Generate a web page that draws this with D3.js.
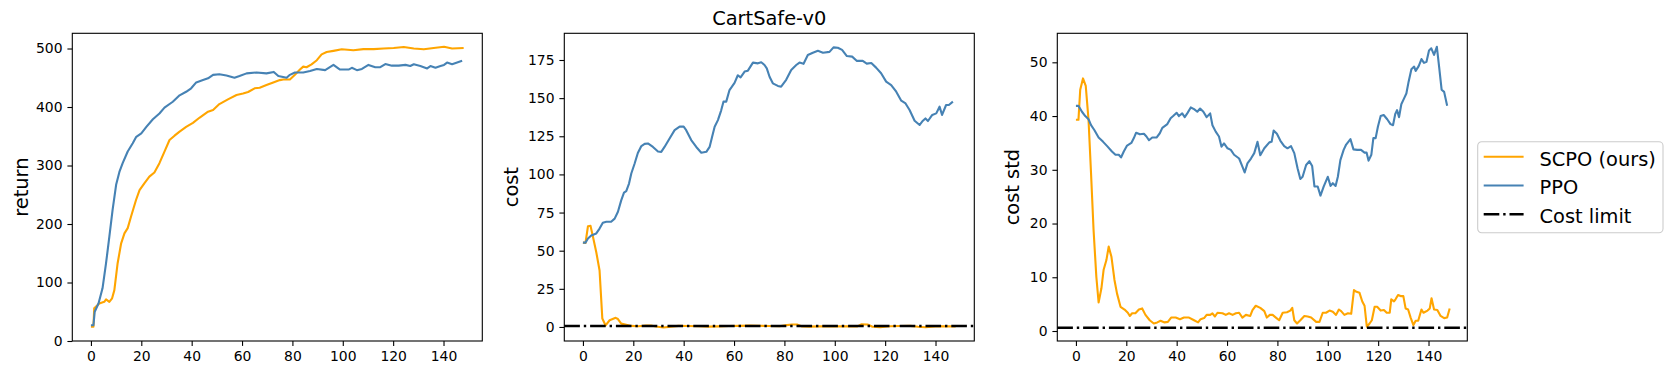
<!DOCTYPE html>
<html>
<head>
<meta charset="utf-8">
<script src="https://cdn.jsdelivr.net/npm/d3@7"></script>
<style>
  body { margin: 0; background: #fff; }
  svg { display: block; font-family: "DejaVu Sans", sans-serif; }
</style>
</head>
<body>
<svg width="1673" height="375"></svg>
<script>
// values, as [step, value]
var scpoReturn = [[0,24.5],[1,24.5],[1.3,56],[3.3,64],[5.3,67],[6,71],[7.3,67],[8.4,73],[9.3,87],[10.6,133],[12,167],[13.3,184],[14.6,193],[15.9,212.5],[17.9,241],[19.3,258],[21.2,269.5],[23.2,281],[25.2,288],[27.2,304],[29.2,323.6],[31.2,343.6],[33.2,351],[35.2,358],[37.8,366],[40.5,373],[43.2,382],[46.5,392],[48.5,395],[51,405],[54.4,413],[57.8,420.5],[60.4,423],[62.4,425.6],[65,432],[67,433],[69.7,437.6],[72.4,442],[75,446],[76.4,447],[79,447],[81,455],[83,464],[84.3,469],[85.6,468],[87.6,473],[89.7,480],[91.6,490],[93.6,494],[96.3,496],[99.6,498.6],[104.2,497],[108.2,499],[112.3,499],[116.2,500],[120.2,501],[124.2,502.5],[128.2,500],[132.2,498.6],[136.1,501],[140.2,503],[143.4,500],[148,501]];
var ppoReturn = [[0,27],[1,27],[1.5,50],[3,64],[4.6,90],[6,133],[7.3,178],[8.6,224],[10,267],[11.3,289],[12.6,304],[14.6,324],[16.6,338],[18,349],[20,355],[22,366],[24.6,379],[27.2,389],[29.2,399],[32.5,409],[35.2,420],[37.8,426],[39.8,432],[41.8,442],[44.5,446],[46.5,449],[48.5,455],[51,456],[53.8,454],[57,450],[59,453],[61.8,457.5],[65.7,459],[69.7,457.5],[72.6,460],[74.4,453],[77.7,450],[79,455],[81,459],[84.3,459],[87,461.5],[89.7,465],[93,463],[96.3,472],[98.9,464],[102.3,464],[103.6,467],[105.6,463],[107.6,465],[110.2,472],[112.9,468],[114.9,468],[116.9,473.5],[119.5,470.7],[122.2,470.7],[124.9,472],[126.8,470],[128.2,473],[130.8,470],[133.5,466],[134.8,470],[136.8,467],[138.8,470],[140.2,472],[141.4,476],[143.4,473],[145.4,476],[147.4,479]];

var scpoCost = [[0,55.3],[1,55],[2,66],[3,66.3],[4,59],[5.3,49],[6.6,37],[7.7,5.5],[9,1],[10.6,4.4],[13,6],[13.9,5.2],[15.2,2.2],[17.2,1.5],[19.2,0.7],[22,0.5],[25,0.9],[27,1.0],[29,0.3],[32,-0.3],[35,0.2],[38,0.7],[42,0.6],[46,0.5],[50,0.2],[54,0.4],[58,0.6],[62,0.7],[66,0.9],[70,0.8],[74,0.6],[78,0.5],[81,1.2],[83,1.6],[85,1.6],[87,0.3],[90,0.2],[94,0.4],[98,0.5],[102,0.4],[106,0.5],[109,0.4],[110.5,1.7],[113,1.6],[115,0.1],[118,-0.2],[122,0.5],[126,0.6],[130,0.7],[133,0.1],[136,-0.2],[140,0.4],[144,0.5],[148,0.4]];
var ppoCost = [[0,55.3],[1,55.3],[2,58],[3.3,60],[5.3,61.3],[6.6,64.5],[7.9,68.3],[9.3,69],[11.2,69],[12.6,71],[13.9,75.5],[15.2,83],[16.3,88],[17.2,89],[18.3,94],[19.2,100.6],[20.5,107],[21.8,114],[23.2,118.6],[24.5,120],[25.8,120.3],[27.8,118],[29.8,115],[31.1,114.8],[32.4,118],[34.4,123.6],[36.4,129],[38.4,131.3],[40,131.3],[41,129],[43,122.5],[45,118],[47,114.2],[49,114.8],[50.3,118],[51.3,124.7],[52.3,131.3],[53.6,135.6],[54.9,142],[55.8,147.7],[56.9,147.7],[58.2,155.3],[60.2,160],[61.5,165],[62.6,163.6],[64.2,167.4],[65.5,168],[67.5,173.3],[69.5,172.8],[70.8,173.5],[72.1,171.7],[73,169.5],[74.1,164],[75.4,159.7],[77.4,158],[78.7,157.5],[80.7,162],[82.7,168.5],[84.7,171.7],[86,173.3],[87.6,172.5],[89.3,178.3],[91.3,179.8],[93.3,181],[95.3,179.8],[97.9,180.3],[99.5,183.3],[101.2,183],[102.9,181.6],[104.8,177.6],[106.9,177.2],[108.8,174.4],[111.1,174.4],[112.7,172.6],[114.5,173],[116.4,170],[118.4,166.3],[120.4,160.8],[122.4,158.6],[124.4,154.2],[126.4,148.3],[128.1,146.5],[129.7,142.2],[131.7,135.2],[133.7,132.4],[135,135.2],[136,136.7],[137,135],[138.7,139],[140.3,140],[141.6,144.4],[142.6,139],[144.2,145.5],[145.3,145.5],[146.9,147.7]];

var scpoStd = [[0,39.3],[1,39.3],[1.7,44.9],[2.8,47],[3.9,45.6],[5,39.3],[6,29.3],[7,18.8],[8.1,10.1],[9,5.3],[10.1,7.9],[11,11.4],[12.1,13.2],[13,15.7],[14.1,13.8],[15.3,9.5],[16.3,7],[17.7,4.5],[19.3,4],[20.6,3.4],[21.4,2.8],[22.3,3.3],[23.6,3.3],[25,4],[26.3,4.2],[27.6,3],[29.3,2],[30.9,1.4],[32.3,1.6],[33.6,1.9],[35.2,1.6],[36.5,1.7],[37.8,2.5],[39.6,2.5],[41.3,2.2],[42.9,2.5],[44.9,2.5],[46.9,2],[48.5,1.6],[49.5,2.2],[50.9,2.4],[51.9,3],[53.3,3],[54.2,3.3],[55.2,2.7],[56.2,3.4],[58.2,3.3],[59.5,3],[60.8,3.3],[62.2,3],[63.5,3.3],[64.8,3.4],[66.1,2.5],[67.5,3],[69.2,2.8],[70.1,3.9],[71.4,4.7],[73.2,4.3],[74.8,3.7],[75.8,2.5],[77,3],[78.1,3],[79.4,2.5],[80.7,2],[82.1,3.4],[83.8,3.5],[85.1,3.8],[85.9,4.3],[86.7,2],[87.8,1.4],[89.1,2],[90.7,2.8],[92,2.7],[93.4,2.5],[95.4,1.7],[96.7,1.7],[98,3.4],[99.3,3.4],[100.7,3.8],[102,3.6],[103.3,3],[104.4,4],[105.3,3.7],[106.6,3],[108,3.3],[109.3,3.2],[110.4,7.6],[111.4,7.3],[112.6,7.1],[113.7,5.5],[114.6,4.7],[115.5,0.8],[116.6,1.4],[117.5,2],[118.6,4.5],[119.6,4.5],[121,3.8],[122.3,3.9],[123.4,3.4],[124.6,3.4],[125.2,5.9],[126.3,5.5],[126.9,5.9],[127.9,6.7],[128.9,6.5],[130,6.5],[130.9,4.2],[131.9,4],[132.9,2.5],[134,1.1],[134.9,1.9],[135.9,1.9],[137.2,4],[138,3.4],[139.6,3.8],[140.5,4.2],[141.2,6.1],[142.2,4],[143.5,3.9],[144.8,2.8],[146.2,2.4],[147.4,2.5],[148.4,4.2]];
var ppoStd = [[0,41.9],[1,41.9],[2.4,40.8],[3.7,40],[5,39.4],[6,38.3],[7.3,37.4],[9,36],[10.8,35.2],[12.4,34.4],[14.3,33.4],[15.7,32.8],[17,32.8],[17.9,32.3],[19,33.4],[20.3,34.5],[22,35],[23,35.9],[23.9,36.9],[25.4,36.6],[27,36.7],[28,36.2],[29,35.5],[30.3,36],[32,36],[33.3,36.8],[34.3,37.8],[36.3,38.5],[37.6,39.6],[38.6,40],[40,40.6],[40.9,40],[42.2,40.5],[43.2,39.8],[44.2,40.5],[45.6,41.6],[46.9,41.3],[48.2,40.8],[49.3,41.4],[50.6,40.8],[51.9,39.8],[53.3,40.5],[54.2,38.3],[55.5,37.1],[56.8,36.2],[57.8,34.3],[58.8,34.9],[60.2,34],[61.5,33.7],[62.8,32.8],[64.8,32.1],[66.1,30.6],[67,29.5],[68.1,31.2],[69.5,32.1],[70.8,33.1],[72.1,35.2],[73.2,32.7],[74.8,34],[76.8,35.1],[77.7,35.2],[78.5,37.3],[79.8,36.7],[81.2,35.4],[82.7,34.4],[84,34],[85.4,34.4],[86.7,33.1],[88,30.3],[89.1,28.3],[90,28.7],[91.4,30.9],[92.7,31.6],[93.8,30.7],[94.7,26.9],[96,26.9],[97.1,25.2],[98.4,26.9],[100,28.7],[101.1,27],[102,27.5],[103.1,27],[104,28.7],[105,31.8],[106.3,33.7],[107.3,34.7],[109,35.7],[110.2,33.8],[111.7,33.7],[113.2,33.7],[114.6,33.2],[115.4,33.2],[116.2,31.7],[117.3,32.8],[118.1,35.9],[119,35.9],[119.9,38],[121,40],[122.2,40.2],[123.6,39.4],[124.9,38.5],[125.9,38.3],[126.8,40.4],[127.5,41.1],[128.3,39.8],[129.2,42.2],[130.3,43.3],[131.2,44.2],[132.1,46.4],[133.2,48.7],[134.3,49.2],[134.9,48.4],[136.1,49.3],[137.2,50.6],[138.2,49.9],[139.2,50.1],[140.2,52.2],[141.1,52.6],[142.2,51.4],[143.3,52.9],[144.2,49.2],[145.2,44.9],[146.2,44.5],[147.4,41.9]];

var costLimit = 0.6;
var xTicks = [0, 20, 40, 60, 80, 100, 120, 140];
var returnTicks = [0, 100, 200, 300, 400, 500];
var costTicks = [0, 25, 50, 75, 100, 125, 150, 175];
var stdTicks = [0, 10, 20, 30, 40, 50];
var legendLabels = ["SCPO (ours)", "PPO", "Cost limit"];

var svg = d3.select("svg");
var orange = "#ffa500", blue = "#4682b4";
var axTop = 33.3, axBottom = 341, axW = 410;
var tickPx = 13.9, bigPx = 19.4;
var dash = "15.6,3.9,2.4,3.9";

var panels = [
    {left: 72.3, yDom: [0, 526], yTicks: returnTicks, label: "return", labelX: 28.3,
     scpo: scpoReturn, ppo: ppoReturn, limit: null},
    {left: 564.3, yDom: [-9.2, 192.5], yTicks: costTicks, label: "cost", labelX: 518.3,
     scpo: scpoCost, ppo: ppoCost, limit: costLimit, title: "CartSafe-v0"},
    {left: 1057.3, yDom: [-1.86, 55.4], yTicks: stdTicks, label: "cost std", labelX: 1019.3,
     scpo: scpoStd, ppo: ppoStd, limit: costLimit}
];

panels.forEach(function(p) {
    var scX = d3.scaleLinear().domain([-7.4, 155.4]).range([p.left, p.left + axW]);
    var scY = d3.scaleLinear().domain(p.yDom).range([axBottom, axTop]);
    var g = svg.append("g");

    var lnMkr = d3.line().x(d => scX(d[0])).y(d => scY(d[1]));
    [[p.scpo, orange], [p.ppo, blue]].forEach(function(s) {
        g.append("path").attr("d", lnMkr(s[0]))
            .attr("fill", "none").attr("stroke", s[1])
            .attr("stroke-width", 2.1).attr("stroke-linejoin", "round");
    });

    if (p.limit !== null) {
        g.append("line")
            .attr("x1", p.left).attr("x2", p.left + axW)
            .attr("y1", scY(p.limit)).attr("y2", scY(p.limit))
            .attr("stroke", "#000").attr("stroke-width", 2.4)
            .attr("stroke-dasharray", dash);
    }

    // frame
    g.append("rect").attr("x", p.left).attr("y", axTop)
        .attr("width", axW).attr("height", axBottom - axTop)
        .attr("fill", "none").attr("stroke", "#000").attr("stroke-width", 1.1);

    var axX = g.append("g").attr("transform", "translate(0," + axBottom + ")")
        .call(d3.axisBottom(scX).tickValues(xTicks).tickSize(4.9).tickPadding(4.9).tickSizeOuter(0));
    var axY = g.append("g").attr("transform", "translate(" + p.left + ",0)")
        .call(d3.axisLeft(scY).tickValues(p.yTicks).tickSize(4.9).tickPadding(4.9).tickSizeOuter(0));
    [axX, axY].forEach(function(a) {
        a.select(".domain").remove();
        a.attr("font-family", null).attr("font-size", null);
        a.selectAll("text").style("font-size", tickPx + "px").attr("fill", "#000");
        a.selectAll("line").attr("stroke", "#000").attr("stroke-width", 1.1);
    });

    g.append("text")
        .attr("transform", "translate(" + p.labelX + "," + ((axTop + axBottom) / 2) + ") rotate(-90)")
        .attr("text-anchor", "middle").style("font-size", bigPx + "px")
        .text(p.label);

    if (p.title) {
        g.append("text").attr("x", p.left + axW / 2).attr("y", 25)
            .attr("text-anchor", "middle").style("font-size", bigPx + "px")
            .text(p.title);
    }
});

// legend, outside the third panel
var lg = svg.append("g").attr("transform", "translate(1477.7,141.7)");
lg.append("rect").attr("width", 185.3).attr("height", 91).attr("rx", 4)
    .attr("fill", "#fff").attr("fill-opacity", 0.8)
    .attr("stroke", "#cccccc").attr("stroke-width", 1.1);
var legendStyles = [[orange, 2.1, null], [blue, 2.1, null], ["#000", 2.4, dash]];
legendLabels.forEach(function(lab, i) {
    var y = 15 + i * 28.8;
    lg.append("line").attr("x1", 6).attr("x2", 45.9).attr("y1", y).attr("y2", y)
        .attr("stroke", legendStyles[i][0]).attr("stroke-width", legendStyles[i][1])
        .attr("stroke-dasharray", legendStyles[i][2]);
    lg.append("text").attr("x", 61.8).attr("y", y + 9)
        .style("font-size", bigPx + "px").text(lab);
});
</script>
</body>
</html>
